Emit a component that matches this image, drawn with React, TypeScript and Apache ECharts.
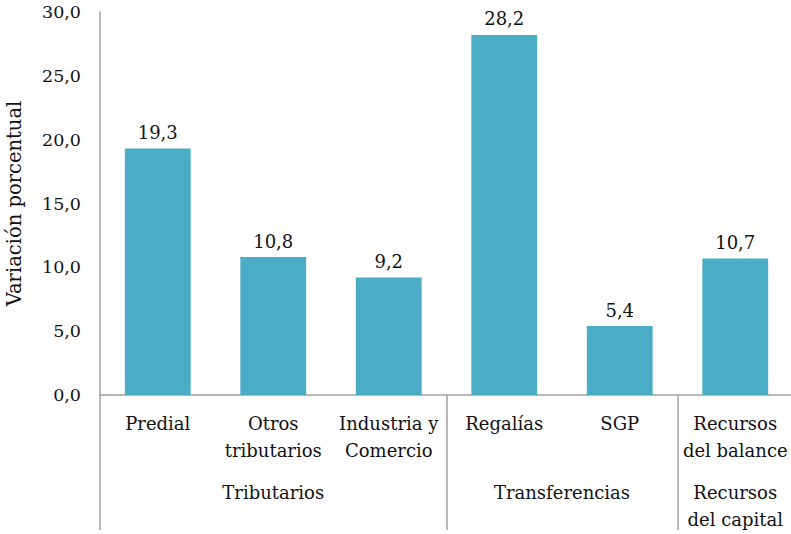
import React, { useEffect, useRef } from "react";
import * as echarts from "echarts";

const categories = ["Predial", "Otros\ntributarios", "Industria y\nComercio", "Regalías", "SGP", "Recursos\ndel balance"];
const values = [19.3, 10.8, 9.2, 28.2, 5.4, 10.7];
const groupLabels = ["Tributarios", "Transferencias", "Recursos\ndel capital"];
const groupCenters = [1.5, 4, 5.5];
const groupBounds = [0, 3, 5];
const yTicks = { min: 0, max: 30, interval: 5 };

const FONT = "DejaVu Serif";
const TXT = "#111";
const AXIS = "#a0a0a0";
const BAR = "#4bacc6";

const fmt = (v: number) => v.toFixed(1).replace(".", ",");

export default function App() {
  const ref = useRef<HTMLDivElement>(null);
  useEffect(() => {
    if (!ref.current) return;
    const chart = echarts.init(ref.current, null, { renderer: "svg" });
    chart.setOption({
      animation: false,
      textStyle: { fontFamily: FONT },
      grid: { left: 100, right: -2, top: 12, bottom: 139, containLabel: false, outerBoundsMode: "none" },
      xAxis: [
        {
          type: "category",
          data: categories,
          axisLine: { show: true, lineStyle: { color: AXIS, width: 1.5 } },
          axisTick: { show: false },
          axisLabel: { interval: 0, color: TXT, fontFamily: FONT, fontSize: 18, lineHeight: 27, margin: 15 },
        },
        {
          type: "value",
          position: "bottom",
          min: 0,
          max: 6,
          axisLine: { show: false },
          splitLine: { show: false },
          axisTick: { show: true, customValues: groupBounds, length: 135, lineStyle: { color: AXIS, width: 1.5 } },
          axisLabel: {
            customValues: groupCenters,
            formatter: (v: number) => groupLabels[groupCenters.indexOf(v)] ?? "",
            color: TXT,
            fontFamily: FONT,
            fontSize: 18,
            lineHeight: 27,
            margin: 84,
          },
        },
      ],
      yAxis: {
        type: "value",
        min: yTicks.min,
        max: yTicks.max,
        interval: yTicks.interval,
        name: "Variación porcentual",
        nameLocation: "middle",
        nameGap: 76,
        nameTextStyle: { color: TXT, fontFamily: FONT, fontSize: 19.5 },
        axisLine: { show: true, lineStyle: { color: AXIS, width: 1.5 } },
        axisTick: { show: false },
        splitLine: { show: false },
        axisLabel: { color: TXT, fontFamily: FONT, fontSize: 17.5, margin: 19, formatter: (v: number) => fmt(v) },
      },
      series: [
        {
          type: "bar",
          data: values,
          barCategoryGap: "43%",
          itemStyle: { color: BAR },
          label: {
            show: true,
            position: "top",
            distance: 7,
            color: TXT,
            fontFamily: FONT,
            fontSize: 18,
            formatter: (p: any) => fmt(p.value),
          },
        },
      ],
    });
    return () => chart.dispose();
  }, []);
  return <div ref={ref} style={{ position: "fixed", left: 0, top: 0, width: 791, height: 534, background: "#fff" }} />;
}
